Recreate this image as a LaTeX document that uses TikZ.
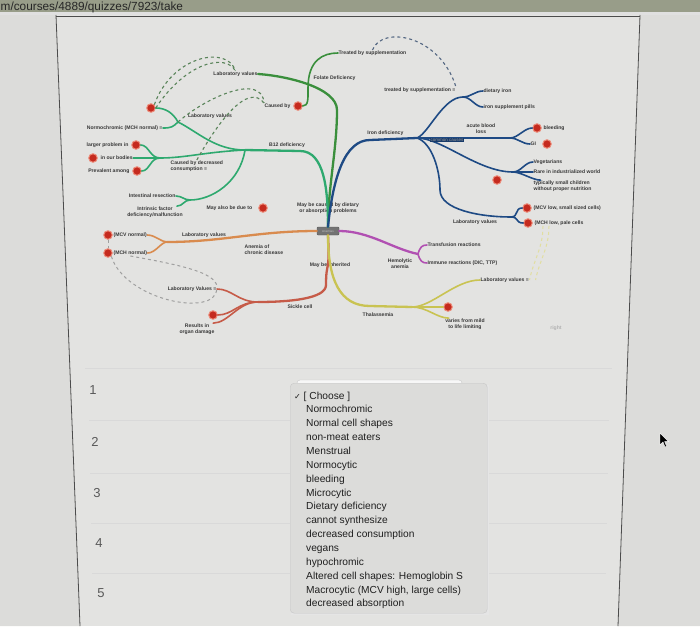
\documentclass[tikz,border=0pt]{standalone}
\usepackage{fontspec}
\setmainfont{Liberation Sans}
\newfontfamily\symfont{DejaVu Sans}
\usetikzlibrary{positioning}

\definecolor{pagebg}{HTML}{E3E3E1}
\definecolor{sidebg}{HTML}{DCDCDA}
\definecolor{barcol}{HTML}{989D89}
\definecolor{folcol}{HTML}{3A8F3C}
\definecolor{b12col}{HTML}{2EA96F}
\definecolor{ironcol}{HTML}{1E4A84}
\definecolor{acdcol}{HTML}{D98B4E}
\definecolor{sickcol}{HTML}{C65B48}
\definecolor{thalcol}{HTML}{C9C352}
\definecolor{hemcol}{HTML}{B150B2}
\definecolor{dotred}{HTML}{C52A1E}
\definecolor{dothalo}{HTML}{EC8A78}

\begin{document}
\begin{tikzpicture}[
    x=1pt, y=-1pt,
    lbl/.style={font=\fontsize{5.1}{5.8}\selectfont\bfseries, inner sep=0.4pt, text=black!78},
    dot/.style={circle, fill=dotred, draw=dothalo, line width=1pt, minimum size=8.5pt, inner sep=0pt},
    trunk/.style={line width=2.3pt, line cap=round},
    branch/.style={line width=1.6pt, line cap=round},
    xlink/.style={dashed, line width=1.1pt, draw=black!45!green!30!gray},
    olink/.style={dashed, line width=1pt, draw=gray!75},
    ylink/.style={dashed, line width=1pt, draw=thalcol!55},
    hubbox/.style={rectangle, rounded corners=1pt, fill=black!55, draw=black!65, minimum width=22pt, minimum height=8pt, inner sep=0pt, font=\fontsize{3}{3}\selectfont, text=black!25},
    item/.style={anchor=base west, font=\fontsize{10.2}{12}\selectfont, text=black!88, inner sep=0pt},
    qnum/.style={font=\fontsize{13}{13}\selectfont, text=black!65},
    sep/.style={draw=black!15, line width=0.6pt},
    frame/.style={draw=black!70, line width=0.8pt}
]
    \useasboundingbox (0,0) rectangle (700,626);
    \fill[pagebg] (0,0) rectangle (700,626);
    \fill[sidebg] (0,12) -- (56,15) -- (80,626) -- (0,626) -- cycle;
    \fill[sidebg] (700,12) -- (640,15) -- (618,626) -- (700,626) -- cycle;
    \fill[barcol] (0,0) rectangle (700,12);
    \fill[black!12] (0,12) rectangle (700,15);
    \node[anchor=base west, font=\fontsize{11.8}{11.8}\selectfont, text=black!85, inner sep=0pt] (url) at (0.5,10.3) {m/courses/4889/quizzes/7923/take};
    \draw[frame] (56,16) -- (640,16);
    \draw[frame] (56,15) -- (80,626);
    \draw[frame] (640,15) -- (618,626);

    % mind map
    \node[hubbox] (ctr) at (328,231) {Anemias};

    \node[lbl, anchor=east] (labF) at (258,74) {Laboratory values};
    \node[lbl, anchor=west] (fol) at (313,78) {Folate Deficiency};
    \node[lbl, anchor=west] (trtF) at (338,53) {Treated by supplementation};
    \node[dot] (cbF) at (298,106) {};
    \node[lbl, anchor=east] (cbFt) at (291,106) {Caused by};

    \node[lbl] (b12) at (287,145) {B12 deficiency};
    \coordinate (bhub) at (245,150);
    \coordinate (blab) at (178,122);
    \coordinate (bcon) at (160,158);
    \coordinate (bmay) at (190,200);
    \node[lbl] (blabt) at (210,116) {Laboratory values};
    \node[dot] (bq1) at (151,108) {};
    \node[lbl, anchor=east] (nchr) at (163,128) {Normochromic (MCH normal) ≡};
    \node[dot] (bq3) at (136,145) {};
    \node[lbl, anchor=east] (lpt) at (129,145) {larger problem in};
    \node[dot] (bq4) at (93,158) {};
    \node[lbl, anchor=west] (bodies) at (100,158) {in our bodies};
    \node[dot] (bq5) at (137,171) {};
    \node[lbl, anchor=east] (prev) at (130,171) {Prevalent among};
    \node[lbl, anchor=north west, align=left] (cdec) at (170,160) {Caused by decreased\\consumption ≡};
    \node[lbl, anchor=east] (ires) at (176,196) {Intestinal resection};
    \node[lbl, align=center] (ifac) at (155,212) {Intrinsic factor\\deficiency/malfunction};
    \node[lbl, anchor=west] (malso) at (206,208) {May also be due to};
    \node[dot] (bq6) at (263,208) {};
    \node[lbl, align=center] (mbc) at (328,208) {May be caused by dietary\\or absorption problems};

    \coordinate (olab) at (167,242);
    \node[dot] (oq7) at (108,235) {};
    \node[lbl, anchor=west] (mcvn) at (113,235) {(MCV normal)};
    \node[dot] (oq8) at (108,253) {};
    \node[lbl, anchor=west] (mchn) at (113,253) {(MCH normal)};
    \node[lbl] (olabt) at (204,235) {Laboratory values};
    \node[lbl, anchor=west, align=left] (acd) at (244,250) {Anemia of\\chronic disease};

    \coordinate (ssub) at (258,302);
    \node[lbl, anchor=east] (slab) at (217,289) {Laboratory Values ≡};
    \node[dot] (sq9) at (213,315) {};
    \node[lbl, align=center] (sorg) at (197,329) {Results in\\organ damage};
    \node[lbl] (sick) at (300,307) {Sickle cell};
    \node[lbl] (inh) at (330,265) {May be inherited};

    \coordinate (tsub) at (412,307);
    \node[lbl, anchor=west] (tlab) at (480,280) {Laboratory values ≡};
    \node[dot] (tq10) at (448,307) {};
    \node[lbl, align=center] (tvar) at (465,324) {varies from mild\\to life limiting};
    \node[lbl] (thal) at (378,315) {Thalassemia};

    \coordinate (hsub) at (418,254);
    \node[lbl, anchor=west] (trf) at (427,245) {Transfusion reactions};
    \node[lbl, anchor=west] (imm) at (427,263) {Immune reactions (DIC, TTP)};
    \node[lbl, align=center] (hem) at (400,264) {Hemolytic\\anemia};

    \coordinate (ihub) at (417,138);
    \coordinate (isup) at (463,97);
    \coordinate (iacu) at (510,138);
    \coordinate (iveg) at (513,172);
    \coordinate (ilab) at (511,217);
    \node[lbl, anchor=east] (idef) at (404,133) {Iron deficiency};
    \node[lbl, anchor=east] (itrt) at (456,90) {treated by supplementation ≡};
    \node[lbl, anchor=west] (diron) at (483,91) {dietary iron};
    \node[lbl, anchor=west] (ipill) at (483,107) {iron supplement pills};
    \node[lbl, align=center] (acu) at (481,129) {acute blood\\loss};
    \node[dot] (iq11) at (537,128) {};
    \node[lbl, anchor=west] (bld) at (543,128) {bleeding};
    \node[lbl, anchor=west] (gi) at (530,144) {GI};
    \node[dot] (iq12) at (547,144) {};
    \node[lbl, anchor=west] (veg) at (533,162) {Vegetarians};
    \node[lbl, anchor=west] (rare) at (533,172) {Rare in industrialized world};
    \node[lbl, anchor=west, align=left] (kids) at (533,186) {typically small children\\without proper nutrition};
    \node[dot] (iq13) at (497,180) {};
    \node[dot] (iq14) at (527,208) {};
    \node[lbl, anchor=west] (mcvl) at (533,208) {(MCV low, small sized cells)};
    \node[dot] (iq15) at (528,223) {};
    \node[lbl, anchor=west] (mchl) at (534,223) {(MCH low, pale cells};
    \node[lbl] (ilabt) at (475,222) {Laboratory values};
    \node[lbl, text=black!30] (faint) at (556,328) {right};

    \draw[trunk, folcol] (ctr.north) .. controls +(0,-40) and +(0,40) .. (337,110) .. controls +(0,-22) and +(30,2) .. (labF.east);
    \draw[branch, folcol] (cbF.east) .. controls +(6,0) and +(0,10) .. (308,88) .. controls +(0,-28) and +(-15,0) .. (trtF.west);

    \draw[trunk, b12col] (ctr.north) .. controls +(0,-35) and +(25,0) .. (300,151) -- (bhub);
    \draw[branch, b12col] (bhub) .. controls +(-30,0) and +(20,10) .. (blab);
    \draw[branch, b12col] (blab) .. controls +(-5,-9) and +(10,0) .. (bq1.east);
    \draw[branch, b12col] (blab) .. controls +(-5,5) and +(8,0) .. (nchr.east);
    \draw[branch, b12col] (bhub) .. controls +(-40,2) and +(25,0) .. (bcon);
    \draw[branch, b12col] (bcon) .. controls +(-10,0) and +(8,0) .. (bq3.east);
    \draw[branch, b12col] (bcon) -- (bodies.east);
    \draw[branch, b12col] (bcon) .. controls +(-10,0) and +(8,0) .. (bq5.east);
    \draw[branch, b12col] (bhub) .. controls +(-5,32) and +(22,0) .. (bmay);
    \draw[branch, b12col] (bmay) .. controls +(-6,0) and +(6,0) .. (ires.east);
    \draw[branch, b12col] (bmay) .. controls +(-6,0) and +(6,0) .. (ifac.15);

    \draw[trunk, acdcol] (ctr.west) .. controls +(-60,0) and +(55,0) .. (olab);
    \draw[branch, acdcol] (olab) .. controls +(-6,0) and +(8,0) .. (mcvn.east);
    \draw[branch, acdcol] (olab) .. controls +(-6,0) and +(8,0) .. (mchn.east);

    \draw[trunk, sickcol] (ctr.south) .. controls +(2,40) and +(0,-25) .. (326,285) .. controls +(0,14) and +(30,0) .. (ssub);
    \draw[branch, sickcol] (ssub) .. controls +(-20,0) and +(15,0) .. (slab.east);
    \draw[branch, sickcol] (ssub) .. controls +(-20,0) and +(15,0) .. (sq9.east);
    \draw[branch, sickcol] (ssub) .. controls +(-20,0) and +(15,0) .. (sorg.20);

    \draw[trunk, thalcol] (ctr.south) .. controls +(0,45) and +(-30,0) .. (370,306) -- (tsub);
    \draw[branch, thalcol] (tsub) .. controls +(20,0) and +(-25,0) .. (tlab.west);
    \draw[branch, thalcol] (tsub) -- (tq10.west);
    \draw[branch, thalcol] (tsub) .. controls +(15,0) and +(-12,0) .. (tvar.160);

    \draw[trunk, hemcol] (ctr.east) .. controls +(30,0) and +(-25,-5) .. (hsub);
    \draw[branch, hemcol] (hsub) .. controls +(2,-7) and +(-5,0) .. (trf.west);
    \draw[branch, hemcol] (hsub) .. controls +(2,7) and +(-5,0) .. (imm.west);

    \draw[trunk, ironcol] (ctr.north) .. controls +(5,-50) and +(-25,0) .. (370,140) -- (ihub);
    \draw[branch, ironcol] (ihub) .. controls +(12,-5) and +(-20,0) .. (isup);
    \draw[branch, ironcol] (isup) .. controls +(8,0) and +(-8,0) .. (diron.west);
    \draw[branch, ironcol] (isup) .. controls +(8,0) and +(-8,0) .. (ipill.west);
    \draw[branch, ironcol] (ihub) -- (iacu);
    \draw[branch, ironcol] (iacu) .. controls +(8,0) and +(-8,0) .. (iq11.west);
    \draw[branch, ironcol] (iacu) .. controls +(8,0) and +(-8,0) .. (gi.west);
    \draw[branch, ironcol] (ihub) .. controls +(25,0) and +(-35,0) .. (iveg);
    \draw[branch, ironcol] (iveg) .. controls +(8,0) and +(-8,0) .. (veg.west);
    \draw[branch, ironcol] (iveg) -- (rare.west);
    \draw[branch, ironcol] (iveg) .. controls +(8,0) and +(-8,0) .. (kids.165);
    \draw[branch, ironcol] (ihub) .. controls +(15,5) and +(0,-20) .. (440,190) .. controls +(0,20) and +(-30,0) .. (ilab);
    \draw[branch, ironcol] (ilab) .. controls +(8,0) and +(-8,0) .. (iq14.west);
    \draw[branch, ironcol] (ilab) .. controls +(8,0) and +(-8,0) .. (iq15.west);
    \node[fill=ironcol!80!black, text=black!40!white, font=\fontsize{4.5}{5}\selectfont, inner sep=0.6pt] (ccs) at (447,140) {common causes};

    \draw[xlink] (bq1.north east) .. controls (172,55) and (228,45) .. (labF.north);
    \draw[xlink] (bq1.east) .. controls (186,62) and (226,53) .. (labF.north);
    \draw[xlink] (blab) .. controls (205,98) and (262,72) .. (cbFt.north west);
    \draw[xlink] (cdec.north) .. controls (218,122) and (248,82) .. (cbFt.north west);
    \draw[dashed, line width=1.1pt, draw=ironcol!45!gray] (trtF.north) .. controls (382,25) and (440,35) .. (itrt.north east);
    \draw[olink] (oq7.south) -- (oq8.north);
    \draw[olink] (oq8.south east) .. controls (125,300) and (215,318) .. (slab.east);
    \draw[olink] (mchn.south) .. controls (180,265) and (214,272) .. (slab.north east);
    \draw[ylink] ([xshift=9pt]mchl.south west) .. controls +(0,22) and +(4,-20) .. (tlab.east);
    \draw[ylink] ([xshift=15pt]mchl.south west) .. controls +(0,22) and +(4,-20) .. ([xshift=6pt]tlab.east);

    % quiz
    \draw[sep] (85,368) -- (612,368);
    \draw[sep] (89,420) -- (609,420);
    \draw[sep] (90,473) -- (608,473);
    \draw[sep] (91,523) -- (607,523);
    \draw[sep] (92,573) -- (606,573);
    \node[qnum] (n1) at (93,390) {1};
    \node[qnum] (n2) at (95,442) {2};
    \node[qnum] (n3) at (97,493) {3};
    \node[qnum] (n4) at (99,543) {4};
    \node[qnum] (n5) at (101,593) {5};

    \fill[black!10] (291,385) rectangle (489,615);
    \draw[fill=black!3, draw=black!22, rounded corners=3pt] (297,380) rectangle (462,392);
    \node[draw=black!22, fill=black!3!pagebg, rounded corners=4pt, minimum width=197pt, minimum height=230pt, anchor=north west, inner sep=0pt] (menu) at (290,383) {};
    \node[item] (pick) at (294,399) {{\symfont\fontsize{8}{8}\selectfont ✓} [ Choose ]};
    \foreach \t [count=\i] in {Normochromic, Normal cell shapes, non-meat eaters, Menstrual, Normocytic, bleeding, Microcytic, Dietary deficiency, cannot synthesize, decreased consumption, vegans, hypochromic, Altered cell shapes: Hemoglobin S, {Macrocytic (MCV high, large cells)}, decreased absorption}
        \node[item] (opt\i) at (306,399+13.86*\i) {\t};

    \filldraw[fill=black, draw=white, line width=0.4pt] (660,433) -- (660,445) -- (663,442) -- (665,447) -- (666.6,446.3) -- (664.6,441.6) -- (668.6,441.6) -- cycle;
\end{tikzpicture}
\end{document}
